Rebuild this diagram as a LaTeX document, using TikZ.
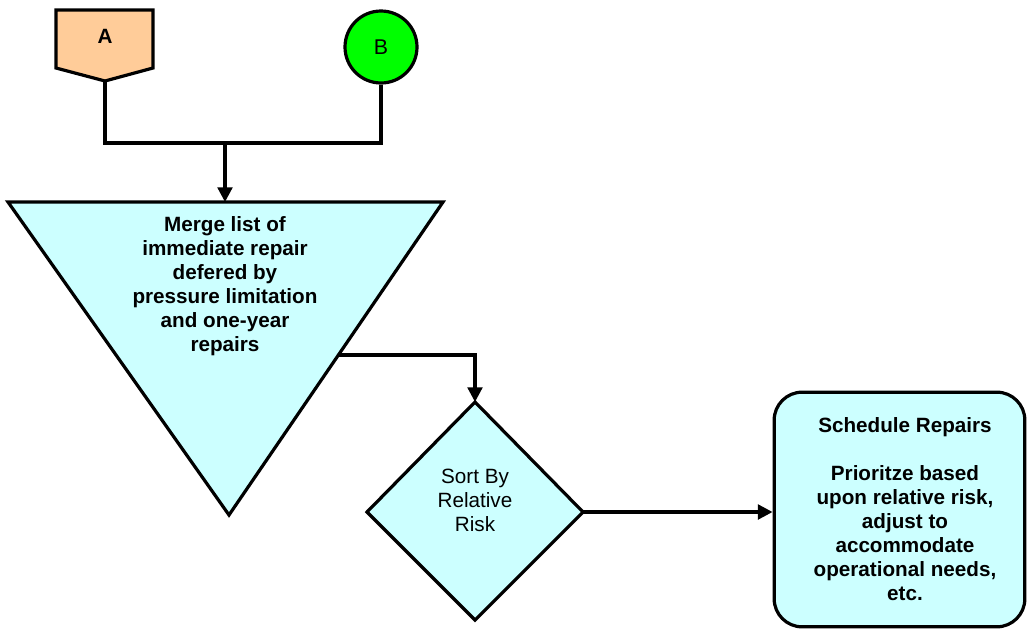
\documentclass[tikz,border=0pt]{standalone}
\usepackage{fontspec}
\setmainfont{Liberation Sans}
\usetikzlibrary{arrows.meta}
\definecolor{peach}{HTML}{FFCC99}
\definecolor{lime}{HTML}{00FF00}
\definecolor{paleaqua}{HTML}{CCFFFF}
\begin{document}
\begin{tikzpicture}[x=0.75pt,y=-0.75pt,
  outline/.style={draw=black,line width=2.4pt,line join=miter},
  conn/.style={draw=black,line width=2.4pt},
  arr/.style={conn,-{Triangle[length=11pt,width=11pt]}},
  txt/.style={font=\fontsize{15.5}{18}\selectfont,align=center,inner sep=0pt},
  btxt/.style={txt,font=\fontsize{15.5}{18}\selectfont\bfseries}
]
\useasboundingbox (0,0) rectangle (1028,629);

% off-page connector A
\coordinate (Atl) at (56,10);
\coordinate (Atr) at (153,10);
\coordinate (Abr) at (153,68);
\coordinate (Abot) at (105,81);
\coordinate (Abl) at (56,68);
\fill[peach] (Atl) -- (Atr) -- (Abr) -- (Abot) -- (Abl) -- cycle;
\draw[outline] (Atl) -- (Atr) -- (Abr) -- (Abot) -- (Abl) -- cycle;
\node[btxt,font=\fontsize{15.5}{18}\selectfont\bfseries] (A) at (105,36) {A};

% on-page connector B
\node[circle,outline,fill=lime,minimum size=54pt,inner sep=0pt,
      font=\fontsize{16}{18}\selectfont] (B) at (381,47) {B};

% merge triangle
\coordinate (Ttl) at (8,202);
\coordinate (Ttr) at (443,202);
\coordinate (Tbot) at (229,515);
\coordinate (Ttop) at (225,202);
\coordinate (Tout) at (338,355);
\fill[paleaqua] (Ttl) -- (Ttr) -- (Tbot) -- cycle;
\draw[outline] (Ttl) -- (Ttr) -- (Tbot) -- cycle;
\node[btxt] (merge) at (225,286) {Merge list of\\immediate repair\\defered by\\pressure limitation\\and one-year\\repairs};

% sort decision
\coordinate (Dt) at (475,402);
\coordinate (Dr) at (583,512);
\coordinate (Db) at (475,620);
\coordinate (Dl) at (367,512);
\fill[paleaqua] (Dt) -- (Dr) -- (Db) -- (Dl) -- cycle;
\draw[outline] (Dt) -- (Dr) -- (Db) -- (Dl) -- cycle;
\node[txt] (sort) at (475,500) {Sort By\\Relative\\Risk};

% schedule box
\node[outline,fill=paleaqua,rounded corners=21pt,minimum width=188pt,
      minimum height=176pt,inner sep=0pt] (sched) at (899.5,509.5) {};
\node[btxt] (schedtxt) at (905,509) {Schedule Repairs\\[18pt]Prioritze based\\upon relative risk,\\adjust to\\accommodate\\operational needs,\\etc.};

% connectors
\coordinate (Ajoin) at (105,143);
\coordinate (Bjoin) at (381,143);
\coordinate (Mjoin) at (225,143);
\coordinate (Sjoin) at (475,355);
\draw[conn] (Abot) -- (Ajoin) -- (Bjoin) -- (B.south);
\draw[arr] (Mjoin) -- (Ttop);
\draw[arr] (Tout) -- (Sjoin) -- (Dt);
\draw[arr] (Dr) -- (Dr -| sched.west);
\end{tikzpicture}
\end{document}
